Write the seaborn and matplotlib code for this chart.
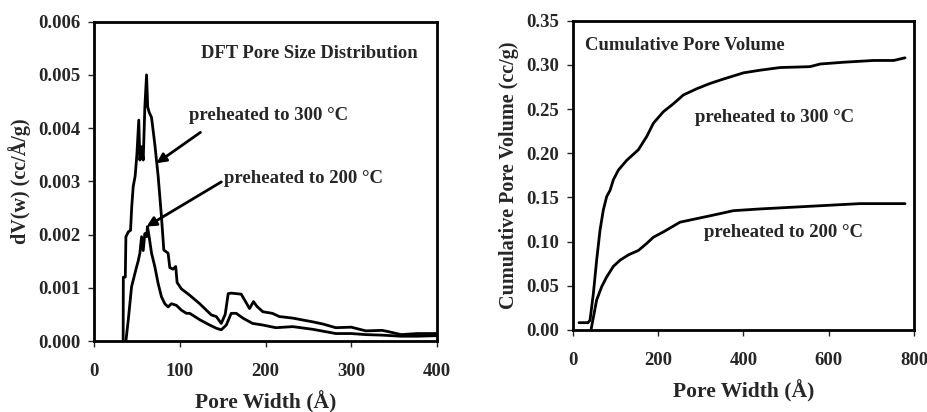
import matplotlib

matplotlib.use("Agg")

import matplotlib.pyplot as plt
import pandas as pd
import seaborn as sns
from matplotlib.ticker import FormatStrFormatter, MultipleLocator

# DFT pore size distribution, dV(w) in cc/A/g
dft_300_w = [34.0, 34.2, 36.5, 37.2, 40.0, 42.6, 44.0, 45.7, 48.0, 50.0, 52.2, 53.5, 55.5, 57.4,
             59.3, 61.3, 62.6, 64.3, 67.1, 70.9, 74.8, 78.7, 81.4, 86.4, 88.4, 92.2, 95.3, 96.9,
             101.9, 111.6, 123.3, 131.0, 136.8, 142.6, 148.4, 153.0, 156.5, 160.0, 171.7, 181.4,
             186.0, 190.0, 196.9, 208.0, 216.0, 231.8, 245.0, 255.0, 266.7, 282.0, 300.0, 317.0,
             336.0, 345.0, 358.0, 377.0, 400.0]
dft_300_v = [0.0, 0.0012, 0.0012, 0.00196, 0.00205, 0.00208, 0.00252, 0.0029, 0.0031, 0.0035,
             0.00415, 0.0034, 0.00365, 0.0034, 0.0044, 0.0050, 0.0044, 0.0043, 0.0042, 0.0037,
             0.0031, 0.00233, 0.00171, 0.00165, 0.00138, 0.00135, 0.0014, 0.0011, 0.00098,
             0.00086, 0.0007, 0.00058, 0.00049, 0.00046, 0.00033, 0.0005, 0.00089, 0.0009,
             0.00088, 0.00061, 0.00074, 0.00065, 0.00055, 0.00052, 0.00046, 0.00043, 0.00039,
             0.00036, 0.00032, 0.00025, 0.00026, 0.00019, 0.0002, 0.00017, 0.00012, 0.00014,
             0.00014]

dft_200_w = [37.2, 40.0, 41.9, 43.8, 45.7, 49.6, 51.5, 53.5, 55.5, 57.4, 59.3, 61.3, 62.4, 64.3,
             67.1, 70.9, 74.8, 78.7, 82.6, 86.4, 90.3, 96.1, 101.9, 107.8, 111.6, 123.3, 134.9,
             142.6, 148.4, 154.3, 160.0, 165.9, 173.6, 185.0, 196.9, 212.0, 231.8, 255.0, 282.0,
             300.0, 317.0, 336.0, 358.0, 377.0, 400.0]
dft_200_v = [0.0, 0.0004, 0.00071, 0.00102, 0.00114, 0.00139, 0.0015, 0.00165, 0.00196, 0.0017,
             0.00202, 0.00196, 0.00215, 0.00196, 0.00165, 0.0014, 0.00108, 0.00083, 0.0007,
             0.00064, 0.0007, 0.00067, 0.00058, 0.00052, 0.00052, 0.0004, 0.0003, 0.00024,
             0.00021, 0.0003, 0.00052, 0.00052, 0.00043, 0.00033, 0.0003, 0.00025, 0.00027,
             0.00022, 0.00014, 0.00014, 0.00012, 0.00011, 0.00009, 0.00009, 0.0001]

# Cumulative pore volume, cc/g
cum_300_w = [14.0, 35.0, 39.9, 47.7, 55.5, 63.4, 71.2, 79.0, 86.9, 94.7, 106.5, 126.0, 153.4,
             173.0, 188.6, 212.0, 235.5, 259.0, 290.3, 321.6, 353.0, 400.0, 439.0, 486.0, 556.0,
             580.0, 635.0, 705.0, 752.0, 779.0]
cum_300_v = [0.0083, 0.0083, 0.011, 0.041, 0.0792, 0.113, 0.136, 0.151, 0.158, 0.170, 0.181,
             0.192, 0.204, 0.219, 0.234, 0.247, 0.256, 0.266, 0.273, 0.279, 0.284, 0.291, 0.294,
             0.297, 0.298, 0.301, 0.303, 0.305, 0.305, 0.308]

cum_200_w = [42.2, 55.5, 67.3, 79.0, 94.7, 110.4, 130.0, 153.4, 173.0, 188.6, 212.0, 251.0,
             290.0, 329.0, 376.0, 439.0, 517.0, 595.0, 673.0, 779.0]
cum_200_v = [0.0, 0.034, 0.049, 0.060, 0.072, 0.079, 0.085, 0.090, 0.098, 0.105, 0.111, 0.122,
             0.126, 0.130, 0.135, 0.137, 0.139, 0.141, 0.143, 0.143]

LABEL_300 = "preheated to 300 °C"
LABEL_200 = "preheated to 200 °C"


def long_frame(pairs):
    parts = [pd.DataFrame({"width": w, "value": v, "sample": name}) for name, w, v in pairs]
    return pd.concat(parts, ignore_index=True)


def style_axes(ax):
    for side in ax.spines.values():
        side.set_linewidth(2.0)
        side.set_color("black")
    ax.tick_params(direction="out", length=4, width=1, labelsize=13.5)
    ax.tick_params(axis="x", pad=12)
    ax.tick_params(axis="y", pad=6)
    for lab in ax.get_xticklabels() + ax.get_yticklabels():
        lab.set_fontweight("bold")


sns.set_theme(style="ticks")
plt.rcParams["font.family"] = ["Liberation Serif", "DejaVu Serif"]
plt.rcParams["font.weight"] = "bold"

fig = plt.figure(figsize=(9.28, 4.12), dpi=100)
ax1 = fig.add_axes([94 / 928, 1 - 341 / 412, (437 - 94) / 928, (341 - 21.7) / 412])
ax2 = fig.add_axes([573 / 928, 1 - 330 / 412, (914 - 573) / 928, (330 - 20.7) / 412])

dft = long_frame([("300", dft_300_w, dft_300_v), ("200", dft_200_w, dft_200_v)])
cum = long_frame([("300", cum_300_w, cum_300_v), ("200", cum_200_w, cum_200_v)])
pal = {"300": "black", "200": "black"}

sns.lineplot(data=dft, x="width", y="value", hue="sample", palette=pal, sort=False,
             estimator=None, linewidth=2.0, legend=False, ax=ax1)
sns.lineplot(data=cum, x="width", y="value", hue="sample", palette=pal, sort=False,
             estimator=None, linewidth=2.0, legend=False, ax=ax2)

# left panel
ax1.set_xlim(0, 400)
ax1.set_ylim(0, 0.006)
ax1.xaxis.set_major_locator(MultipleLocator(100))
ax1.yaxis.set_major_locator(MultipleLocator(0.001))
ax1.yaxis.set_major_formatter(FormatStrFormatter("%.3f"))
ax1.set_xlabel("Pore Width (Å)", fontsize=15.5, fontweight="bold", labelpad=8)
ax1.set_ylabel("dV(w) (cc/Å/g)", fontsize=14.5, fontweight="bold", labelpad=5)
style_axes(ax1)
ax1.text(377, 0.0054, "DFT Pore Size Distribution", ha="right", va="center",
         fontsize=13.4, fontweight="bold")
ax1.text(111, 0.00424, LABEL_300, ha="left", va="center", fontsize=13.5, fontweight="bold")
ax1.text(152, 0.00306, LABEL_200, ha="left", va="center", fontsize=13.5, fontweight="bold")
arrow = dict(arrowstyle="-|>", color="black", lw=2.0, mutation_scale=14, shrinkA=0, shrinkB=0)
ax1.annotate("", xy=(72.9, 0.00334), xytext=(124.1, 0.00392), arrowprops=arrow)
ax1.annotate("", xy=(61.3, 0.00215), xytext=(148.5, 0.00299), arrowprops=arrow)

# right panel
ax2.set_xlim(0, 800)
ax2.set_ylim(0, 0.35)
ax2.xaxis.set_major_locator(MultipleLocator(200))
ax2.yaxis.set_major_locator(MultipleLocator(0.05))
ax2.yaxis.set_major_formatter(FormatStrFormatter("%.2f"))
ax2.set_xlabel("Pore Width (Å)", fontsize=15.5, fontweight="bold", labelpad=8)
ax2.set_ylabel("Cumulative Pore Volume (cc/g)", fontsize=14.5, fontweight="bold", labelpad=5)
style_axes(ax2)
ax2.text(28, 0.3225, "Cumulative Pore Volume", ha="left", va="center",
         fontsize=13.4, fontweight="bold")
ax2.text(474, 0.240, LABEL_300, ha="center", va="center", fontsize=13.5, fontweight="bold")
ax2.text(493, 0.110, LABEL_200, ha="center", va="center", fontsize=13.5, fontweight="bold")

fig.savefig("out.png", dpi=100, facecolor="white")
plt.close(fig)
